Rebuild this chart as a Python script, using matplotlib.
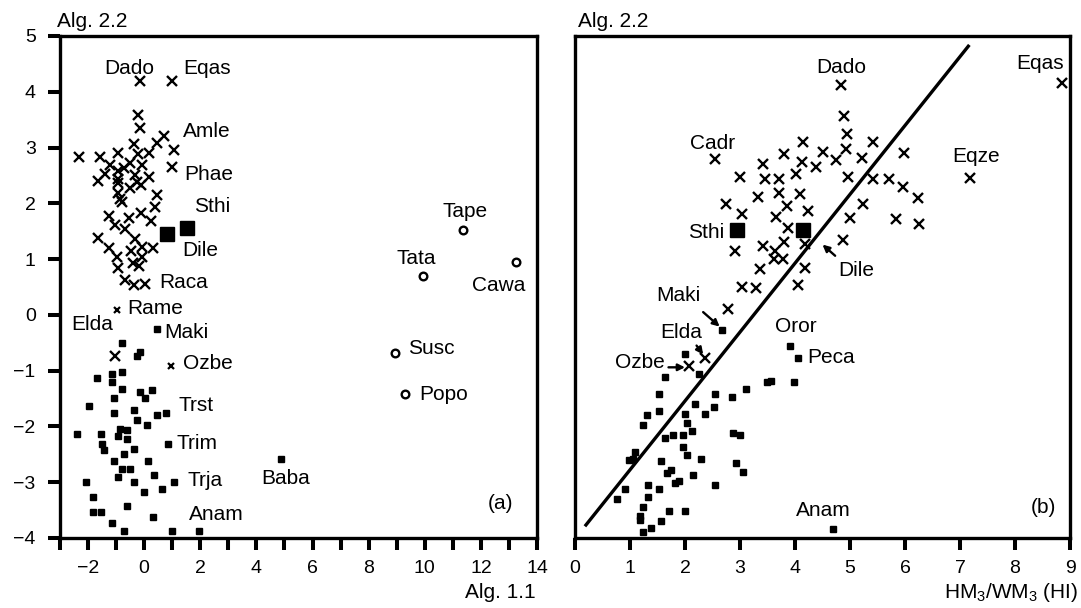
import matplotlib
matplotlib.use("Agg")
import matplotlib.pyplot as plt

plt.rcParams['font.family'] = ['Liberation Sans', 'DejaVu Sans']
plt.rcParams['font.size'] = 15
plt.rcParams['mathtext.fontset'] = 'custom'
plt.rcParams['mathtext.rm'] = 'Liberation Sans'
plt.rcParams['mathtext.it'] = 'Liberation Sans'

FS = 15
TFS = 14

# ---------------- Panel (a): Alg. 1.1 vs Alg. 2.2 ----------------
a_cross_x = [-0.15, 0.99, -0.23, -0.15, 0.70, 0.44, -0.35, 1.07, -2.34, -1.59, -0.95, -0.23, 0.18,
             -0.51, -0.06, -1.22, 0.99, -1.63, -1.39, -0.94, -0.92, -0.71, -0.33, 0.18, -0.95, -0.51,
             -0.12, -0.27, -0.92, 0.44, -0.86, -0.78, 0.38, -0.12, -1.25, -0.53, 0.24, -1.04, -0.68,
             -1.63, -0.33, -1.25, -0.06, 0.32, -0.47, -0.98, -0.09, -0.39, -0.94, -0.19, -0.68, -0.35,
             0.03, -1.04]
a_cross_y = [4.19, 4.19, 3.58, 3.35, 3.21, 3.09, 3.06, 2.96, 2.83, 2.83, 2.90, 2.89, 2.90,
             2.72, 2.69, 2.68, 2.65, 2.40, 2.52, 2.58, 2.44, 2.63, 2.51, 2.48, 2.37, 2.27,
             2.33, 2.39, 2.19, 2.15, 2.07, 2.03, 1.94, 1.83, 1.77, 1.73, 1.69, 1.61, 1.54,
             1.37, 1.36, 1.20, 1.21, 1.20, 1.15, 1.04, 1.04, 0.93, 0.84, 0.87, 0.63, 0.54,
             0.56, -0.73]
a_smallcross_x = [-0.98, 0.95]
a_smallcross_y = [0.09, -0.91]
a_sq_x = [0.44, -0.78, -0.27, -0.15, -1.69, -1.13, -0.78, -1.13, -0.78, -0.15, 0.29, -1.06, 0.03,
          -1.98, -1.06, -0.35, 0.44, 0.79, -0.27, 0.09, -2.40, -1.55, -0.86, -0.62, -0.94, -0.62,
          -1.49, -1.42, 0.85, -0.35, -0.71, -1.06, 0.14, -0.78, -0.51, -0.92, 0.35, -2.07, -0.35,
          1.07, 0.65, 0.00, -1.84, -0.62, -1.84, -1.55, 0.30, -1.13, -0.71, 0.99, 1.94, 4.87]
a_sq_y = [-0.26, -0.51, -0.73, -0.66, -1.13, -1.06, -1.03, -1.21, -1.32, -1.39, -1.34, -1.49, -1.49,
          -1.64, -1.75, -1.71, -1.79, -1.75, -1.89, -1.97, -2.14, -2.14, -2.05, -2.07, -2.18, -2.23,
          -2.31, -2.43, -2.32, -2.40, -2.50, -2.62, -2.62, -2.77, -2.77, -2.91, -2.87, -2.99, -3.00,
          -3.00, -3.12, -3.18, -3.27, -3.42, -3.53, -3.53, -3.63, -3.73, -3.88, -3.88, -3.88, -2.59]
a_bigsq_x = [0.82, 1.53]
a_bigsq_y = [1.45, 1.55]
a_circ_x = [11.35, 9.93, 13.26, 8.93, 9.28]
a_circ_y = [1.52, 0.69, 0.94, -0.69, -1.41]

a_labels = ['Dado', 'Eqas', 'Amle', 'Phae', 'Sthi', 'Dile', 'Raca', 'Rame', 'Elda', 'Maki',
            'Ozbe', 'Trst', 'Trim', 'Trja', 'Anam', 'Baba', 'Tape', 'Tata', 'Cawa', 'Susc', 'Popo']
a_label_x = [-1.42, 1.39, 1.39, 1.44, 1.78, 1.36, 0.53, -0.59, -2.61, 0.73,
             1.38, 1.21, 1.15, 1.53, 1.59, 4.16, 10.64, 9.01, 11.67, 9.42, 9.81]
a_label_y = [4.41, 4.41, 3.29, 2.52, 1.95, 1.15, 0.58, 0.11, -0.18, -0.31,
             -0.88, -1.63, -2.30, -2.97, -3.57, -2.94, 1.85, 1.01, 0.52, -0.60, -1.43]

# ---------------- Panel (b): HM3/WM3 (HI) vs Alg. 2.2 ----------------
b_cross_x = [4.84, 4.89, 4.95, 4.93, 2.55, 4.15, 3.80, 4.50, 4.75, 4.12, 3.42, 4.38, 3.00, 3.45,
             3.70, 4.02, 4.97, 3.71, 3.33, 4.09, 3.85, 2.75, 3.03, 4.24, 3.65, 3.88, 5.00, 2.91,
             3.41, 3.64, 3.80, 4.18, 4.87, 3.61, 3.79, 3.36, 4.18, 3.03, 3.29, 4.06, 2.79, 2.36,
             2.08, 8.85, 5.41, 5.21, 5.99, 7.18, 5.42, 5.71, 5.96, 6.23, 5.23, 5.84, 6.25]
b_cross_y = [4.12, 3.57, 3.24, 2.97, 2.80, 3.10, 2.89, 2.92, 2.77, 2.74, 2.71, 2.65, 2.47, 2.44,
             2.44, 2.53, 2.48, 2.18, 2.11, 2.17, 1.96, 1.99, 1.81, 1.87, 1.75, 1.55, 1.73, 1.15,
             1.23, 1.15, 1.31, 1.27, 1.35, 1.00, 1.00, 0.82, 0.84, 0.50, 0.48, 0.54, 0.11, -0.78,
             -0.92, 4.16, 3.10, 2.82, 2.91, 2.45, 2.44, 2.44, 2.30, 2.10, 1.98, 1.72, 1.63]
b_sq_x = [2.68, 2.00, 2.26, 1.64, 3.91, 4.06, 3.49, 3.56, 3.99, 3.10, 1.52, 2.55, 2.85, 2.18,
          2.52, 1.53, 1.31, 2.00, 2.36, 1.23, 2.03, 2.12, 1.79, 1.64, 1.97, 2.88, 3.00, 1.09,
          0.99, 1.05, 1.97, 2.04, 1.56, 2.29, 2.92, 3.06, 1.75, 1.67, 2.15, 1.89, 1.82, 1.33,
          0.91, 1.53, 2.55, 1.33, 0.76, 1.24, 1.70, 2.00, 1.18, 1.19, 1.56, 1.38, 1.24, 4.69]
b_sq_y = [-0.27, -0.70, -1.06, -1.11, -0.55, -0.77, -1.21, -1.18, -1.21, -1.33, -1.42, -1.42, -1.48, -1.59,
          -1.66, -1.73, -1.80, -1.77, -1.77, -1.98, -1.94, -2.09, -2.16, -2.20, -2.16, -2.12, -2.16, -2.45,
          -2.61, -2.59, -2.37, -2.51, -2.62, -2.58, -2.65, -2.81, -2.78, -2.83, -2.87, -2.97, -3.02, -3.05,
          -3.13, -3.13, -3.05, -3.27, -3.30, -3.45, -3.51, -3.52, -3.61, -3.67, -3.69, -3.82, -3.90, -3.84]
b_bigsq_x = [2.95, 4.14]
b_bigsq_y = [1.53, 1.53]
b_line_x = [0.18, 7.17]
b_line_y = [-3.79, 4.84]

b_labels = ['Dado', 'Eqas', 'Cadr', 'Eqze', 'Sthi', 'Dile', 'Maki', 'Elda', 'Ozbe', 'Oror', 'Peca', 'Anam']
b_label_x = [4.84, 8.02, 2.50, 6.85, 2.72, 4.78, 1.48, 1.55, 1.64, 3.64, 4.22, 4.02]
b_label_y = [4.44, 4.50, 3.07, 2.84, 1.48, 0.80, 0.34, -0.32, -0.86, -0.21, -0.76, -3.51]
b_label_ha = ['center', 'left', 'center', 'left', 'right', 'left', 'left', 'left', 'right', 'left', 'left', 'left']

# arrows (tail -> head)
b_arrow_tail = [(4.73, 1.06), (2.33, 0.05), (2.21, -0.55), (1.70, -0.94)]
b_arrow_head = [(4.50, 1.26), (2.63, -0.21), (2.33, -0.71), (2.00, -0.94)]

fig = plt.figure(figsize=(10.81, 6.08), dpi=100)
W, H = 1081.0, 608.0
ax1 = fig.add_axes([60 / W, 1 - 538 / H, 477 / W, 502 / H])
ax2 = fig.add_axes([575 / W, 1 - 538 / H, 495 / W, 502 / H])

def style(ax):
    for s in ax.spines.values():
        s.set_linewidth(2.4)
    ax.tick_params(direction='out', length=8.5, width=2.9, labelsize=TFS, pad=7)
    ax.set_ylim(-4, 5)

cross_kw = dict(marker='x', ls='none', color='black', ms=7, mew=1.7)
sq_kw = dict(marker='s', ls='none', color='black', ms=4.4)
big_kw = dict(marker='s', ls='none', color='black', ms=9.5)

# Panel (a)
style(ax1)
ax1.set_xlim(-3, 14)
ax1.plot(a_cross_x, a_cross_y, **cross_kw)
ax1.plot(a_smallcross_x, a_smallcross_y, marker='x', ls='none', color='black', ms=5, mew=1.6)
ax1.plot(a_sq_x, a_sq_y, **sq_kw)
ax1.plot(a_bigsq_x, a_bigsq_y, **big_kw)
ax1.plot(a_circ_x, a_circ_y, marker='o', ls='none', mfc='white', mec='black', ms=5.5, mew=1.7)
for t, x, y in zip(a_labels, a_label_x, a_label_y):
    ax1.text(x, y, t, ha='left', va='center', fontsize=FS)
ax1.text(12.25, -3.38, '(a)', ha='left', va='center', fontsize=FS)
xt = list(range(-3, 15))
ax1.set_xticks(xt)
ax1.set_xticklabels([(str(v).replace('-', '\u2212') if v % 2 == 0 else '') for v in xt])
yt = list(range(-4, 6))
ax1.set_yticks(yt)
ax1.set_yticklabels([str(v).replace('-', '\u2212') for v in yt])
ax1.tick_params(axis='y', pad=9)

# Panel (b)
style(ax2)
ax2.set_xlim(0, 9)
ax2.plot(b_line_x, b_line_y, color='black', lw=2.4, solid_capstyle='butt')
ax2.plot(b_cross_x, b_cross_y, **cross_kw)
ax2.plot(b_sq_x, b_sq_y, **sq_kw)
ax2.plot(b_bigsq_x, b_bigsq_y, **big_kw)
for t, x, y, ha in zip(b_labels, b_label_x, b_label_y, b_label_ha):
    ax2.text(x, y, t, ha=ha, va='center', fontsize=FS)
ax2.text(8.28, -3.46, '(b)', ha='left', va='center', fontsize=FS)
for tail, head in zip(b_arrow_tail, b_arrow_head):
    ax2.annotate('', xy=head, xytext=tail,
                 arrowprops=dict(arrowstyle='-|>', color='black', lw=1.7, mutation_scale=10,
                                 shrinkA=0, shrinkB=0))
ax2.set_xticks(range(0, 10))
ax2.set_yticks([])

# Axis titles
fig.text(57 / W, 1 - 27 / H, 'Alg. 2.2', ha='left', va='baseline', fontsize=FS)
fig.text(578 / W, 1 - 27 / H, 'Alg. 2.2', ha='left', va='baseline', fontsize=FS)
fig.text(536 / W, 1 - 598 / H, 'Alg. 1.1', ha='right', va='baseline', fontsize=FS)
fig.text(1078 / W, 1 - 598 / H, r'HM$_3$/WM$_3$ (HI)', ha='right', va='baseline', fontsize=FS)

fig.savefig('out.png', dpi=100)
